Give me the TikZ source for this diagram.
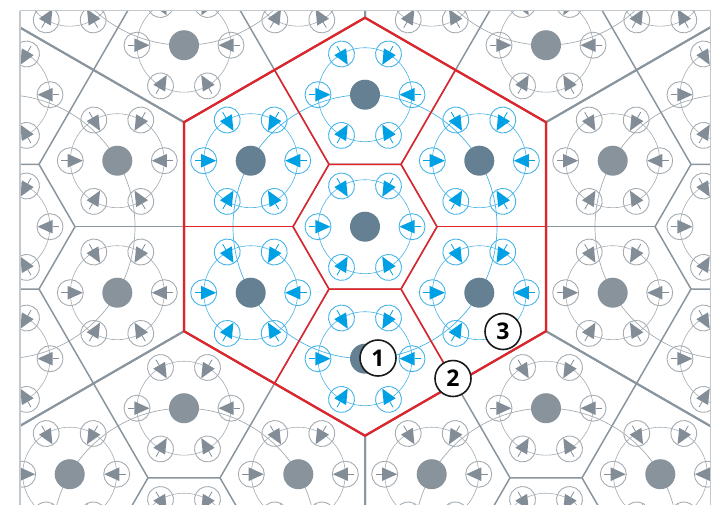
\documentclass[tikz,border=0pt]{standalone}
\usepackage{fontspec}
\newfontfamily\labfont{Open Sans}
\definecolor{hexred}{RGB}{226,35,42}
\definecolor{bluecirc}{RGB}{70,180,232}
\definecolor{bluetri}{RGB}{0,160,228}
\definecolor{bluedot}{RGB}{100,128,146}
\definecolor{graycirc}{RGB}{165,172,178}
\definecolor{graytri}{RGB}{130,141,151}
\definecolor{graydot}{RGB}{137,147,156}
\definecolor{grayline}{RGB}{138,149,158}
\definecolor{framegray}{RGB}{196,201,205}
\newcommand\mycell[5]{%
  \begin{scope}[shift={(#1,#2)}]
    \draw[#3, line width=0.6pt] (0,0) circle[radius=47pt];
    \foreach \a in {0,60,...,300}{%
      \begin{scope}[rotate=\a]
        \draw[#3, line width=0.9pt] (47,0) circle[radius=13pt];
        \fill[#4] (34.5,0) -- (49.6,6.8) -- (49.6,-6.8) -- cycle;
        \draw[#4, line width=0.8pt] (49.6,0) -- (56,0);
      \end{scope}
    }
    \fill[#5] (0,0) circle[radius=15pt];
  \end{scope}}
\newcommand\mycluster[5]{%
  \draw[#3, line width=0.7pt] (#1,#2) circle[radius=132pt];
  \mycell{#1}{#2}{#3}{#4}{#5}
  \mycell{#1}{#2-132}{#3}{#4}{#5}
  \mycell{#1}{#2+132}{#3}{#4}{#5}
  \mycell{#1+114.3}{#2-66}{#3}{#4}{#5}
  \mycell{#1+114.3}{#2+66}{#3}{#4}{#5}
  \mycell{#1-114.3}{#2-66}{#3}{#4}{#5}
  \mycell{#1-114.3}{#2+66}{#3}{#4}{#5}}
\newcommand\myhexlines[4]{%
  \begin{scope}[shift={(#1,#2)}]
    \draw[#3, line width=#4, line join=miter] (90:209) -- (30:209) -- (-30:209) -- (-90:209) -- (-150:209) -- (150:209) -- cycle;
    \draw[#3, line width=1.5pt, line join=miter] (0:72) -- (60:72) -- (120:72) -- (180:72) -- (240:72) -- (300:72) -- cycle;
    \foreach \t in {0,60,...,300}{\draw[#3, line width=1.5pt] (\t:72) -- (\t:181);}
  \end{scope}}
\tikzset{numlabel/.style={circle, draw=black!90, fill=white, line width=1.6pt, minimum size=36pt, inner sep=0pt, font=\labfont\bfseries\fontsize{23}{23}\selectfont}}
\begin{document}
\begin{tikzpicture}[x=1pt,y=-1pt]
\useasboundingbox (0,0) rectangle (722,504);
\begin{scope}
  \clip (20,10.5) rectangle (710.5,530);
  \foreach \i in {-2,...,2}{
    \foreach \j in {-1,0,1}{
      \pgfmathsetmacro\cx{365+362*\i+181*\j}
      \pgfmathsetmacro\cy{226.7+313.5*\j}
      \ifnum\i=0 \ifnum\j=0 \else
        \mycluster{\cx}{\cy}{graycirc}{graytri}{graydot}
      \fi\else
        \mycluster{\cx}{\cy}{graycirc}{graytri}{graydot}
      \fi
    }
  }
  \mycluster{365}{226.7}{bluecirc}{bluetri}{bluedot}
  \foreach \i in {-2,...,2}{
    \foreach \j in {-1,0,1}{
      \pgfmathsetmacro\cx{365+362*\i+181*\j}
      \pgfmathsetmacro\cy{226.7+313.5*\j}
      \myhexlines{\cx}{\cy}{grayline}{2pt}
    }
  }
  \myhexlines{365}{226.7}{hexred}{2.2pt}
\end{scope}
\draw[framegray, line width=1.4pt] (20,10.5) -- (710.5,10.5) (20,10.5) -- (20,530) (710.5,10.5) -- (710.5,530);
\node[numlabel] (n1) at (378,358) {1};
\node[numlabel] (n2) at (453,378.5) {2};
\node[numlabel] (n3) at (503,331.5) {3};
\end{tikzpicture}
\end{document}
